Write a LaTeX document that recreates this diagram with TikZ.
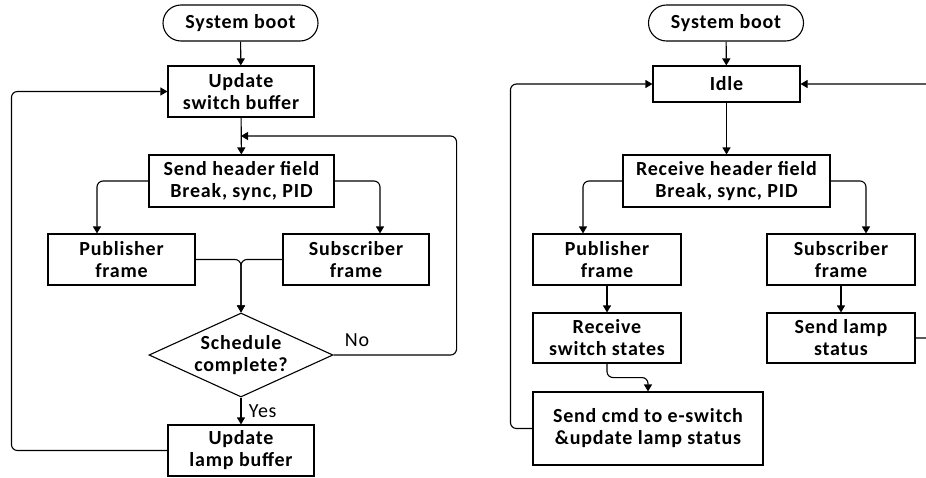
\documentclass[tikz,border=0pt]{standalone}
\usepackage{fontspec}
\setmainfont{Carlito}[LetterSpace=4]
\usetikzlibrary{arrows.meta,shapes.geometric}

\begin{document}
\begin{tikzpicture}[
  x=1pt, y=-1pt,
  every node/.style={font=\fontsize{20}{22}\selectfont\bfseries},
  box/.style={rectangle, draw, line width=1.1pt, minimum width=146pt, minimum height=51pt, inner sep=0pt, align=center},
  startbox/.style={rectangle, draw, line width=1.1pt, rounded corners=18pt, minimum width=155pt, minimum height=36pt, inner sep=0pt},
  decision/.style={diamond, draw, line width=1.1pt, minimum width=184pt, minimum height=84pt, inner sep=0pt, aspect=2.2, align=center},
  arrow/.style={-{Triangle[length=7pt,width=8pt]}, line width=1.1pt, rounded corners=6pt},
  answer/.style={font=\fontsize{20}{22}\selectfont}
]
\clip (0,0) rectangle (926,477);

% master side
\node[startbox] (boot1) at (240.5,23) {System boot};
\node[box] (swbuf) at (241,91.5) {Update\\switch buffer};
\node[box, minimum width=185pt, minimum height=52pt] (hdr1) at (241.5,181) {Send header field\\Break, sync, PID};
\node[box, minimum width=147pt] (pub1) at (121.5,259.5) {Publisher\\frame};
\node[box] (sub1) at (356,259.5) {Subscriber\\frame};
\node[decision] (dec) at (241,355) {Schedule\\complete?};
\node[box] (lbuf) at (241,450.5) {Update\\lamp buffer};
\coordinate (merge1) at (241,136);

% slave side
\node[startbox] (boot2) at (726,23) {System boot};
\node[box, minimum width=147pt, minimum height=36pt] (idle) at (726.5,84) {Idle};
\node[box, minimum width=207pt, minimum height=52pt] (hdr2) at (726.5,181) {Receive header field\\Break, sync, PID};
\node[box, minimum width=148pt] (pub2) at (607,259.5) {Publisher\\frame};
\node[box, minimum width=148pt] (sub2) at (841,259.5) {Subscriber\\frame};
\node[box, minimum width=148pt, minimum height=50pt] (rss) at (607,338) {Receive\\switch states};
\node[box, minimum width=148pt, minimum height=50pt] (slamp) at (841,338) {Send lamp\\status};
\node[box, minimum width=230pt, minimum height=73pt] (cmd) at (648,428.5) {Send cmd to e-switch\\\&update lamp status};

% master arrows
\draw[arrow] (boot1) -- (swbuf);
\draw[arrow] (swbuf) -- (hdr1);
\draw[arrow] (hdr1.west) -| ([xshift=-24.5pt]pub1.north);
\draw[arrow] (hdr1.east) -| ([xshift=24pt]sub1.north);
\draw[arrow] (pub1.east) -| (dec.north);
\draw[arrow] (sub1.west) -| (dec.north);
\draw[arrow] (dec.east) -- ++(123,0) |- (merge1);
\node[answer] (no) at (357,340) {No};
\draw[arrow] (dec.south) -- (lbuf.north) node[answer, midway, right=4pt] (yes) {Yes};
\draw[arrow] (lbuf.west) -- ++(-156,0) |- (swbuf.west);

% slave arrows
\draw[arrow] (boot2) -- (idle);
\draw[arrow] (idle) -- (hdr2);
\draw[arrow] (hdr2.west) -| ([xshift=-24pt]pub2.north);
\draw[arrow] (hdr2.east) -| ([xshift=25pt]sub2.north);
\draw[arrow] (pub2) -- (rss);
\draw[arrow] (sub2) -- (slamp);
\draw[arrow] (rss.south) -- ++(0,14) -| (cmd.north);
\draw[arrow] (cmd.west) -- ++(-22,0) |- (idle.west);
\draw[arrow] (slamp.east) -- ++(20,0) |- (idle.east);

\end{tikzpicture}
\end{document}
